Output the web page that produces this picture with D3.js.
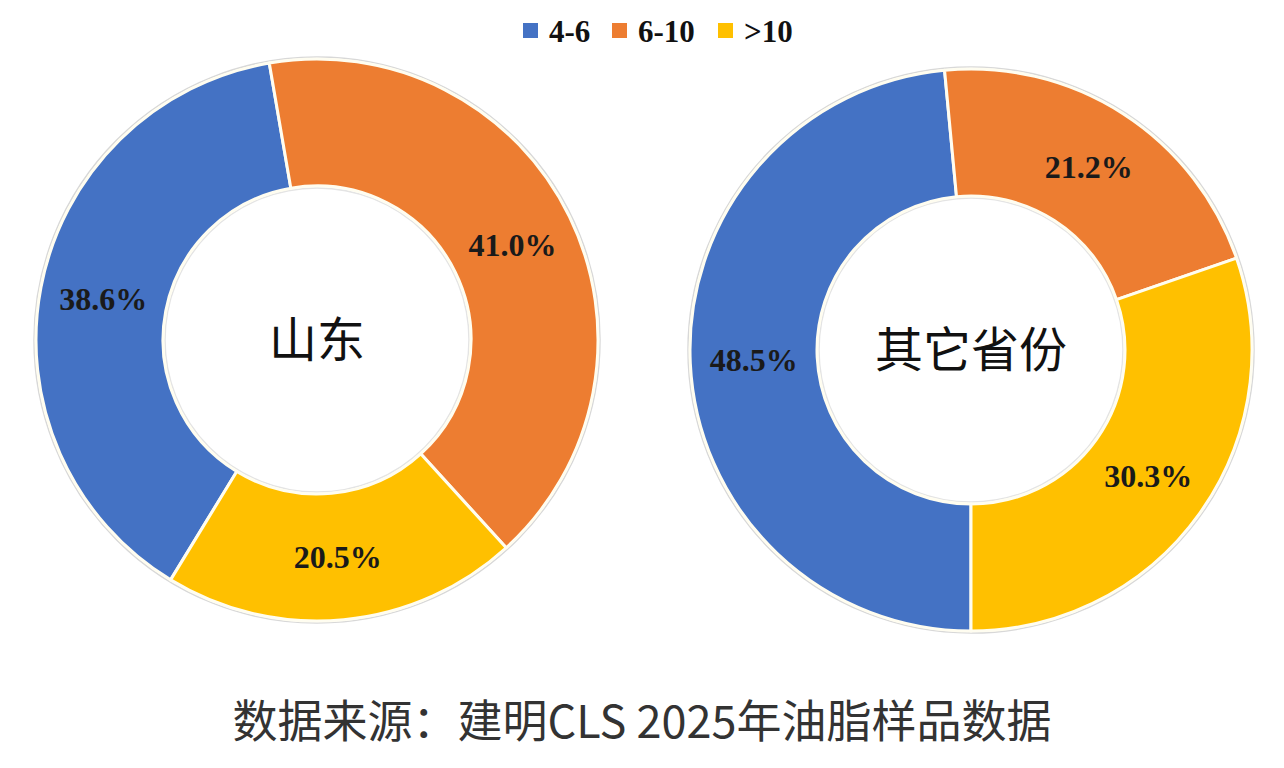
<!DOCTYPE html>
<html>
<head>
<meta charset="utf-8">
<script src="https://cdn.jsdelivr.net/npm/d3@7"></script>
<style>
  html, body { margin: 0; padding: 0; background: #fff; }
  svg { display: block; }
</style>
</head>
<body>
<svg id="chart"></svg>
<script>
// categories and values
const categories = ["4-6", "6-10", ">10"];
const regions = ["山东", "其它省份"];
const shandongValues = [38.6, 41.0, 20.5];
const otherValues = [48.5, 21.2, 30.3];
const sourceNote = "数据来源：建明CLS 2025年油脂样品数据";

const width = 1284;
const height = 768;
const colors = ["#4472C4", "#ED7D31", "#FFC000"];

const svg = d3.select("#chart").attr("width", width).attr("height", height);

const color = d3.scaleOrdinal().domain(categories).range(colors);

// one donut per region; start angle is where the first slice (4-6) begins
const donuts = [
  { name: regions[0], values: shandongValues, cx: 317, cy: 340, start: 211.4 },
  { name: regions[1], values: otherValues, cx: 971, cy: 350, start: 180 }
];

const outerR = 281;
const innerR = 154;
const arc = d3.arc().innerRadius(innerR).outerRadius(outerR);
const labelArc = d3.arc().innerRadius((innerR + outerR) / 2).outerRadius((innerR + outerR) / 2);

for (const donut of donuts) {
  const s = donut.start * Math.PI / 180;
  const pie = d3.pie().sort(null).value(d => d.value).startAngle(s).endAngle(s + 2 * Math.PI);
  const rows = categories.map((c, i) => ({ key: c, value: donut.values[i] }));
  const g = svg.append("g").attr("transform", `translate(${donut.cx},${donut.cy})`);

  // faint outline around the ring
  g.append("circle").attr("r", outerR + 2).attr("fill", "none").attr("stroke", "#d8d8d8").attr("stroke-width", 1.5);
  g.append("circle").attr("r", innerR - 2).attr("fill", "none").attr("stroke", "#e4e4e4").attr("stroke-width", 1.5);

  const slices = pie(rows);
  g.selectAll("path.slice")
    .data(slices)
    .join("path")
    .attr("class", "slice")
    .attr("d", arc)
    .attr("fill", d => color(d.data.key))
    .attr("stroke", "#fffdf0")
    .attr("stroke-width", 3)
    .attr("stroke-linejoin", "round");

  g.selectAll("text.pct")
    .data(slices)
    .join("text")
    .attr("class", "pct")
    .attr("transform", d => `translate(${labelArc.centroid(d)})`)
    .attr("text-anchor", "middle")
    .attr("dy", "0.35em")
    .attr("font-family", "'Liberation Serif', 'Times New Roman', serif")
    .attr("font-weight", "bold")
    .attr("font-size", 32)
    .attr("fill", "#1a1a1a")
    .text(d => d.data.value.toFixed(1) + "%");

  g.append("text")
    .attr("text-anchor", "middle")
    .attr("dy", "0.36em")
    .attr("font-family", "'Noto Sans CJK SC', sans-serif")
    .attr("font-size", 48)
    .attr("fill", "#111")
    .text(donut.name);
}

// legend across the top
const legendPos = [523, 612, 718];
const legend = svg.append("g").attr("class", "legend");
const legendItems = legend.selectAll("g")
  .data(categories)
  .join("g")
  .attr("transform", (d, i) => `translate(${legendPos[i]},23)`);

legendItems.append("rect")
  .attr("width", 15).attr("height", 15)
  .attr("fill", d => color(d));

legendItems.append("text")
  .attr("x", 26)
  .attr("y", 7.5)
  .attr("dy", "0.36em")
  .attr("font-family", "'Liberation Serif', 'Times New Roman', serif")
  .attr("font-weight", "bold")
  .attr("font-size", 31)
  .attr("fill", "#111")
  .text(d => d);

// source note
svg.append("text")
  .attr("x", 642)
  .attr("y", 722)
  .attr("dy", "0.36em")
  .attr("text-anchor", "middle")
  .attr("font-family", "'Noto Sans CJK SC', sans-serif")
  .attr("font-size", 45)
  .attr("fill", "#333")
  .text(sourceNote);
</script>
</body>
</html>
